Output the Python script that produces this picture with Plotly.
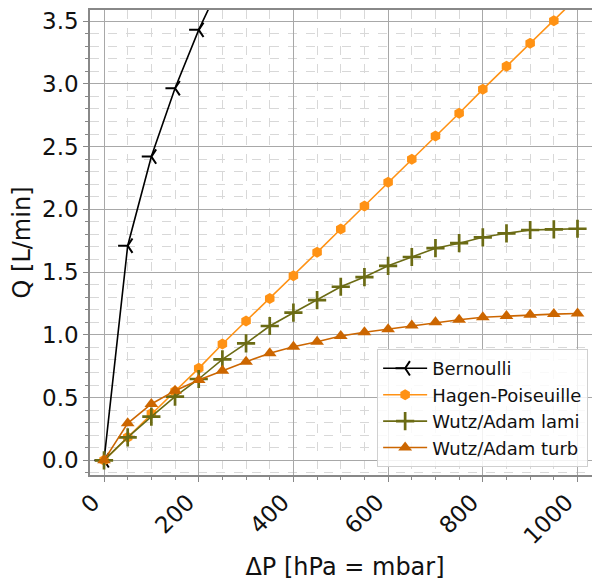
import plotly.graph_objects as go

dp = [0, 50, 100, 150, 200, 250, 300, 350, 400, 450, 500, 550, 600, 650, 700, 750, 800, 850, 900, 950, 1000]
q_bernoulli = [0, 1.71, 2.42, 2.965, 3.43, 3.83, 4.19, 4.52, 4.84, 5.13, 5.41, 5.67, 5.92, 6.17, 6.40, 6.62, 6.84, 7.05, 7.26, 7.45, 7.65]
q_hagen = [0, 0.184, 0.374, 0.55, 0.733, 0.927, 1.11, 1.29, 1.47, 1.657, 1.843, 2.027, 2.215, 2.398, 2.584, 2.765, 2.956, 3.14, 3.323, 3.503, 3.69]
q_lami = [0, 0.183, 0.348, 0.507, 0.648, 0.805, 0.932, 1.07, 1.176, 1.277, 1.383, 1.46, 1.55, 1.62, 1.69, 1.73, 1.777, 1.809, 1.835, 1.84, 1.845]
q_turb = [0, 0.295, 0.449, 0.555, 0.64, 0.714, 0.786, 0.853, 0.905, 0.945, 0.99, 1.02, 1.045, 1.075, 1.10, 1.12, 1.14, 1.15, 1.16, 1.165, 1.17]

FONT = "DejaVu Sans"
fig = go.Figure()

fig.add_trace(go.Scatter(
    x=dp, y=q_bernoulli, name="Bernoulli", mode="lines+markers", legendgroup="a",
    line=dict(color="black", width=1.6),
    marker=dict(symbol="y-left", size=12, line=dict(color="black", width=2), color="black")))
fig.add_trace(go.Scatter(
    x=dp, y=q_hagen, name="Hagen-Poiseuille", mode="lines+markers", legendgroup="b",
    line=dict(color="#FF9214", width=1.6),
    marker=dict(symbol="hexagon", size=11, color="#FF9214")))
fig.add_trace(go.Scatter(
    x=dp, y=q_lami, name="Wutz/Adam lami", mode="lines+markers", legendgroup="c",
    line=dict(color="#6B6B14", width=1.6),
    marker=dict(symbol="cross-thin", size=13, line=dict(color="#6B6B14", width=2.7), color="#6B6B14")))
fig.add_trace(go.Scatter(
    x=dp, y=q_turb, name="Wutz/Adam turb", mode="lines+markers", legendgroup="d",
    line=dict(color="#CC6600", width=1.6),
    marker=dict(symbol="triangle-up", size=12, color="#CC6600")))

# page body has an 8px default margin, so the figure is 8px smaller and shifted
fig.update_layout(
    width=592, height=573,
    margin=dict(l=82, r=0, t=2, b=106),
    paper_bgcolor="white", plot_bgcolor="white",
    font=dict(family=FONT, color="#111111"),
    showlegend=True,
    legend=dict(x=0.563, y=0.017, xanchor="left", yanchor="bottom",
                bgcolor="rgba(255,255,255,0.85)", bordercolor="#d0d0d0", borderwidth=1,
                font=dict(size=18, family=FONT, color="#111111"),
                tracegroupgap=0, itemwidth=44),
)

fig.update_xaxes(
    range=[-29.6, 1047.5], tickmode="linear", tick0=0, dtick=200, automargin=False,
    tickangle=-45, tickfont=dict(size=23, family=FONT, color="#111111"),
    ticklabelshift=-11, ticklabelstandoff=-2,
    title=dict(text="ΔP [hPa = mbar]", font=dict(size=24, family=FONT, color="#111111"), standoff=12),
    showgrid=True, gridcolor="#a8a8a8", gridwidth=1,
    showline=True, linecolor="#888888", linewidth=1.5, mirror=True,
    ticks="outside", ticklen=5, tickcolor="#888888", zeroline=False,
    minor=dict(dtick=50, showgrid=True, gridcolor="#d8d8d8", griddash="dash", gridwidth=1,
               ticks="outside", ticklen=3, tickcolor="#888888"),
)
fig.update_yaxes(
    range=[-0.117, 3.588], tickmode="linear", tick0=0, dtick=0.5, tickformat=".1f", automargin=False,
    tickfont=dict(size=23, family=FONT, color="#111111"),
    title=dict(text="Q [L/min]", font=dict(size=24, family=FONT, color="#111111"), standoff=8),
    showgrid=True, gridcolor="#a8a8a8", gridwidth=1,
    showline=True, linecolor="#888888", linewidth=1.5,
    ticks="outside", ticklen=5, tickcolor="#888888", zeroline=False,
    minor=dict(dtick=0.1, showgrid=True, gridcolor="#d8d8d8", griddash="dash", gridwidth=1,
               ticks="outside", ticklen=3, tickcolor="#888888"),
)

fig.write_html("out.html")
